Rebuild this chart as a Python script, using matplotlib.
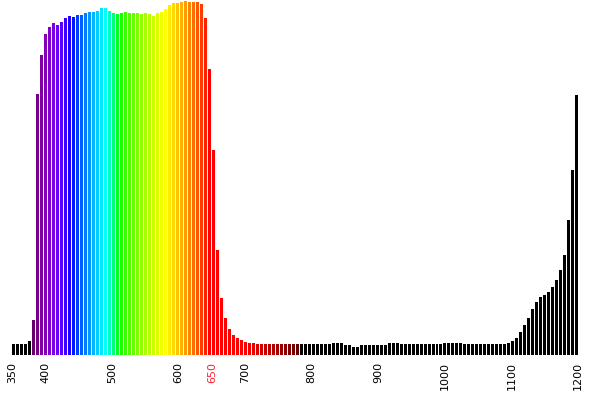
import matplotlib
matplotlib.use("Agg")
import matplotlib.pyplot as plt
import numpy as np

# Bar left edges (nm), 6 nm pitch from 350 to 1196
wavelength_start = 350
wavelength_step = 6
# Transmission (%) for each bar
transmission = [
    3.1, 3.1, 3.1, 3.1, 3.9, 9.9, 73.5, 84.5, 90.4, 92.4,
    93.5, 93.0, 93.8, 94.9, 95.5, 95.2, 95.8, 95.8, 96.3, 96.6,
    96.6, 96.9, 97.7, 97.7, 96.9, 96.3, 96.1, 96.3, 96.6, 96.3,
    96.3, 96.3, 96.1, 96.3, 96.1, 95.5, 96.3, 96.6, 97.5, 98.6,
    99.2, 99.2, 99.4, 99.7, 99.4, 99.4, 99.4, 98.9, 94.9, 80.5,
    57.7, 29.6, 16.1, 10.4, 7.3, 5.6, 4.8, 4.2, 3.7, 3.4,
    3.4, 3.1, 3.1, 3.1, 3.1, 3.1, 3.1, 3.1, 3.1, 3.1,
    3.1, 3.1, 3.1, 3.1, 3.1, 3.1, 3.1, 3.1, 3.1, 3.1,
    3.4, 3.4, 3.4, 2.8, 2.8, 2.3, 2.3, 2.8, 2.8, 2.8,
    2.8, 2.8, 2.8, 2.8, 3.4, 3.4, 3.4, 3.1, 3.1, 3.1,
    3.1, 3.1, 3.1, 3.1, 3.1, 3.1, 3.1, 3.1, 3.3, 3.3,
    3.3, 3.3, 3.3, 3.1, 3.1, 3.1, 3.1, 3.1, 3.1, 3.1,
    3.1, 3.1, 3.1, 3.1, 3.4, 3.9, 4.8, 6.5, 8.5, 10.4,
    13.0, 14.9, 16.3, 16.9, 17.7, 19.2, 21.1, 23.9, 28.2, 38.0,
    52.0, 73.2,
]
tick_values = [350, 400, 500, 600, 650, 700, 800, 900, 1000, 1100, 1200]
highlight_tick = 650

wavelengths = wavelength_start + wavelength_step * np.arange(len(transmission))


def wl_to_rgb(wl, gamma=0.8):
    if 380 <= wl < 440:
        r, g, b = -(wl - 440) / 60, 0.0, 1.0
    elif 440 <= wl < 490:
        r, g, b = 0.0, (wl - 440) / 50, 1.0
    elif 490 <= wl < 510:
        r, g, b = 0.0, 1.0, -(wl - 510) / 20
    elif 510 <= wl < 580:
        r, g, b = (wl - 510) / 70, 1.0, 0.0
    elif 580 <= wl < 645:
        r, g, b = 1.0, -(wl - 645) / 65, 0.0
    elif 645 <= wl <= 780:
        r, g, b = 1.0, 0.0, 0.0
    else:
        return (0.0, 0.0, 0.0)
    if wl < 420:
        f = 0.3 + 0.7 * (wl - 380) / 40
    elif wl > 700:
        f = 0.3 + 0.7 * (780 - wl) / 80
    else:
        f = 1.0
    return tuple((c * f) ** gamma if c > 0 else 0.0 for c in (r, g, b))


bar_width = 4.5
colors = [wl_to_rgb(w + bar_width / 2) for w in wavelengths]

fig = plt.figure(figsize=(5.89, 4.11), dpi=100)
ax = fig.add_axes([12 / 589, 56 / 411, 566 / 589, 355 / 411])
ax.bar(wavelengths, transmission, width=bar_width, align="edge",
       color=colors, linewidth=0)
ax.set_xlim(350, 1200)
ax.set_ylim(0, 100)
for s in ax.spines.values():
    s.set_visible(False)
ax.set_yticks([])
ax.set_xticks(tick_values)
ax.set_xticklabels([str(t) for t in tick_values], rotation=90, fontsize=8)
ax.tick_params(axis="x", length=0, pad=5)
for lab, t in zip(ax.get_xticklabels(), tick_values):
    if t == highlight_tick:
        lab.set_color("#ff2030")
fig.savefig("out.png", dpi=100)
